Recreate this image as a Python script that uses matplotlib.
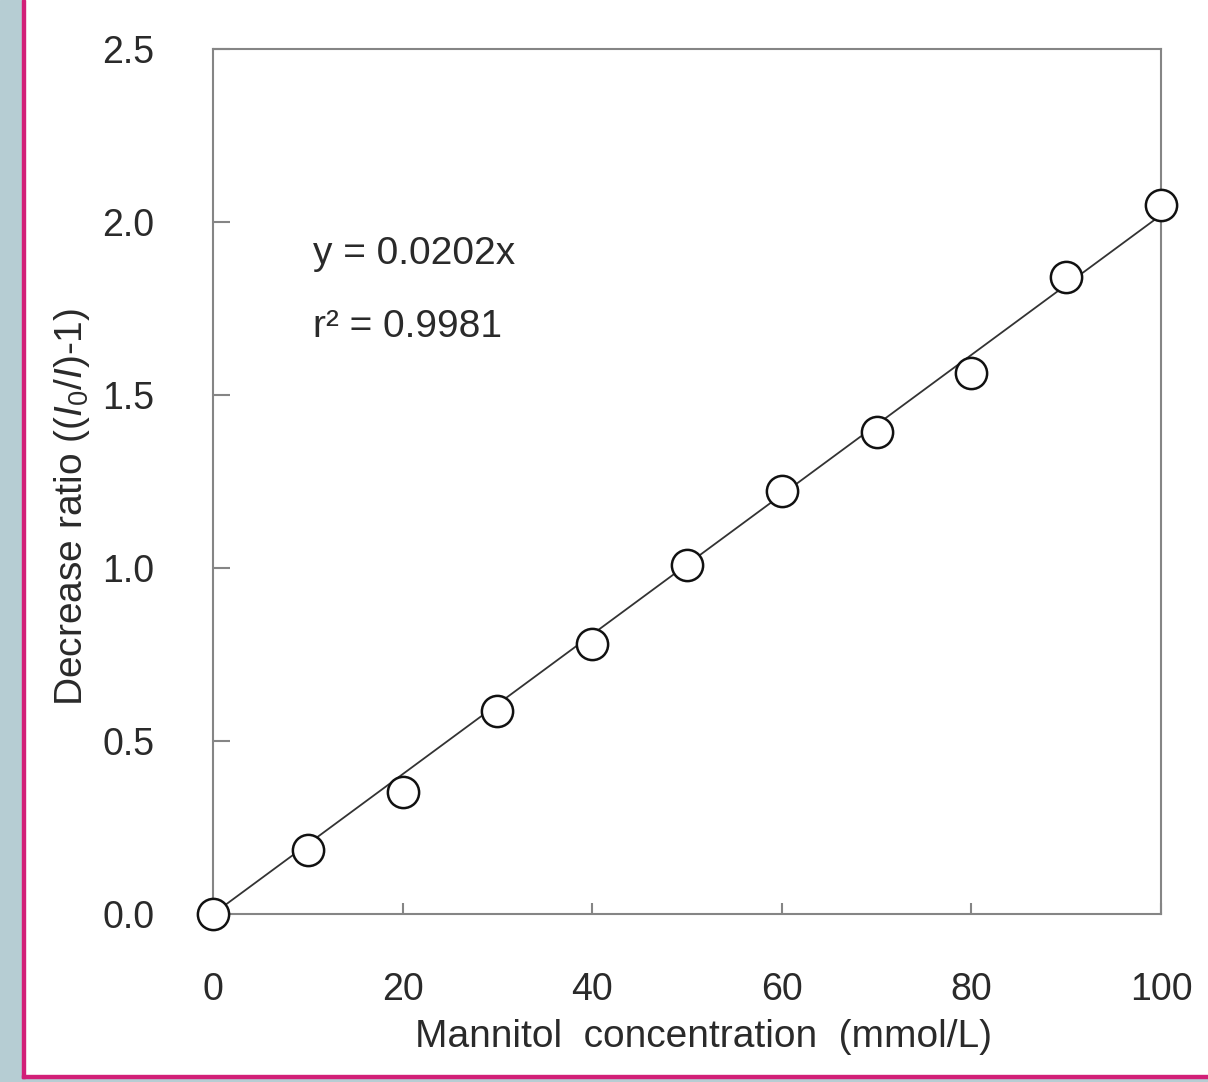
import matplotlib.pyplot as plt
import numpy as np
from matplotlib.patches import Rectangle

plt.rcParams['font.family'] = ['Liberation Sans', 'DejaVu Sans']
plt.rcParams['mathtext.fontset'] = 'custom'
plt.rcParams['mathtext.it'] = 'Liberation Sans:italic'
plt.rcParams['mathtext.rm'] = 'Liberation Sans'

# data
conc = [0, 10, 20, 30, 40, 50, 60, 70, 80, 90, 100]
ratio = [0.0, 0.185, 0.353, 0.587, 0.780, 1.009, 1.223, 1.393, 1.564, 1.841, 2.049]
slope = 0.0202
r2 = 0.9981
xticks = [0, 20, 40, 60, 80, 100]
yticks = [0.0, 0.5, 1.0, 1.5, 2.0, 2.5]

W, H = 1208, 1082
fig = plt.figure(figsize=(W / 100, H / 100), dpi=100)

# page background: bluish strip + magenta frame
bg = '#b6cdd3'
mag = '#d21f78'
fig.patches.append(Rectangle((0, 0), 22 / W, 1, transform=fig.transFigure, color=bg, zorder=-10))
fig.patches.append(Rectangle((0, 0), 1, 4 / H, transform=fig.transFigure, color=bg, zorder=-10))
fig.patches.append(Rectangle((22 / W, 4 / H), 3 / W, 1 - 4 / H, transform=fig.transFigure, color=mag, zorder=-9))
fig.patches.append(Rectangle((22 / W, 4 / H), 1, 3 / H, transform=fig.transFigure, color=mag, zorder=-9))

ax = fig.add_axes([213 / W, 168 / H, 948 / W, 865 / H])

xfit = np.array([0, 100])
ax.plot(xfit, slope * xfit, color='#333333', lw=1.3, zorder=2)
ax.plot(conc, ratio, 'o', ms=22.5, mfc='white', mec='#111111', mew=1.8,
        clip_on=False, zorder=3)

ax.set_xlim(0, 100)
ax.set_ylim(0, 2.5)
ax.set_xticks(xticks)
ax.set_yticks(yticks)
ax.set_yticklabels([f'{v:.1f}' for v in yticks])

txt = '#2a2a2a'
for s in ax.spines.values():
    s.set_color('#858585')
    s.set_linewidth(1.5)
ax.tick_params(axis='x', direction='in', length=8, width=1.5, color='#858585',
               labelsize=27, labelcolor=txt, pad=42)
ax.tick_params(axis='y', direction='in', length=12, width=1.5, color='#858585',
               labelsize=27, labelcolor=txt, pad=42)

ax.set_xlabel('Mannitol  concentration  (mmol/L)', fontsize=28, color=txt, va='center')
ax.set_ylabel(r'Decrease ratio (($\mathit{I}_0$/$\mathit{I}$)-1)', fontsize=28,
              color=txt, va='center')
ax.xaxis.set_label_coords(0.517, -0.142)
ax.yaxis.set_label_coords(-0.149, 0.470)

ax.text(0.105, 0.763, f'y = {slope}x', transform=ax.transAxes, fontsize=28,
        color=txt, va='center')
ax.text(0.105, 0.679, f'r² = {r2}', transform=ax.transAxes, fontsize=28,
        color=txt, va='center')

fig.savefig('out.png', dpi=100)
